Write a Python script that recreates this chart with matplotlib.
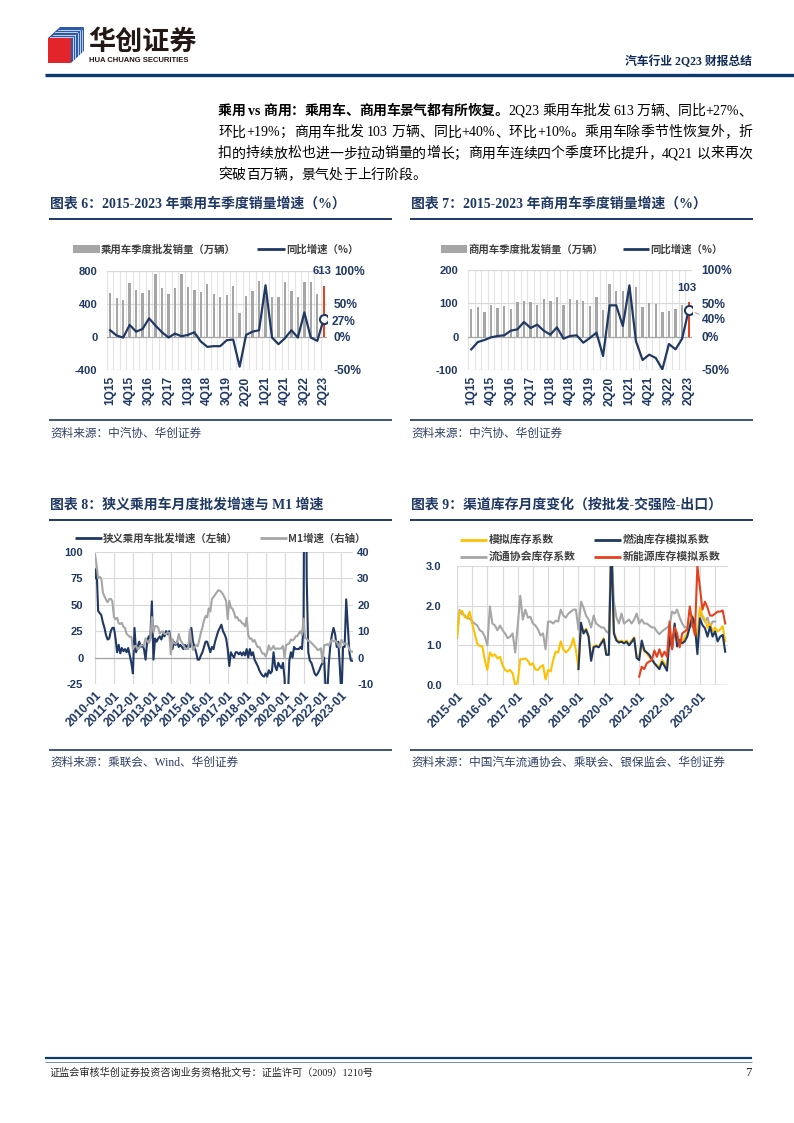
import re
import matplotlib
matplotlib.use('Agg')
import matplotlib.pyplot as plt
from matplotlib.lines import Line2D
from matplotlib.patches import Polygon, Rectangle
from matplotlib.font_manager import FontProperties

# ======================= DATA =======================
quarters = ['1Q15', '2Q15', '3Q15', '4Q15', '1Q16', '2Q16', '3Q16', '4Q16',
            '1Q17', '2Q17', '3Q17', '4Q17', '1Q18', '2Q18', '3Q18', '4Q18',
            '1Q19', '2Q19', '3Q19', '4Q19', '1Q20', '2Q20', '3Q20', '4Q20',
            '1Q21', '2Q21', '3Q21', '4Q21', '1Q22', '2Q22', '3Q22', '4Q22',
            '1Q23', '2Q23']
# 乘用车季度批发销量（万辆） / 同比增速（%）
pv_quarter_sales = [528, 476, 444, 652, 564, 532, 564, 756, 596, 524, 588, 756,
                    604, 564, 540, 644, 524, 484, 508, 620, 284, 500, 552, 676,
                    500, 488, 484, 660, 552, 488, 660, 660, 520, 613]
pv_quarter_yoy = [10, 2, -1, 18, 8, 12, 28, 17, 7, -1, 5, 1,
                  3, 7, -7, -15, -14, -14, -5, -4, -45, 3, 8, 10,
                  78, -1, -11, -2, 10, -1, 37, -1, -6, 27]
# 商用车季度批发销量（万辆） / 同比增速（%）
cv_quarter_sales = [84, 90, 74, 94, 86, 92, 82, 104, 106, 104, 96, 112,
                    108, 120, 96, 112, 110, 108, 92, 120, 80, 158, 136, 138,
                    150, 148, 88, 102, 98, 74, 78, 82, 96, 103]
cv_quarter_yoy = [-19, -8, -5, -1, 1, 2, 9, 11, 22, 13, 18, 9,
                  3, 14, -3, 1, 2, -9, -2, 6, -29, 47, 47, 16,
                  77, -7, -35, -27, -32, -49, -11, -19, -3, 40]

# 图表8: monthly, 2010-01 .. 2023-08
month_ticks_8 = ['2010-01', '2011-01', '2012-01', '2013-01', '2014-01', '2015-01', '2016-01',
                 '2017-01', '2018-01', '2019-01', '2020-01', '2021-01', '2022-01', '2023-01']
pv_month_yoy = [75, 84, 44, 42, 40, 33, 28, 21, 17, 18, 25, 28,
                28, 18, 5, 12, 4, 9, 6, 8, 5, 9, 2, -5,
                -15, 28, 5, 10, 15, 10, 12, 8, -2, 15, 20, 18,
                53, -2, 18, 15, 18, 20, 17, 22, 20, 25, 22, 25,
                15, 8, 15, 12, 15, 10, 12, 10, 8, 12, 10, 12,
                10, 28, 15, 10, 5, -2, -2, 2, 5, 10, 15, 15,
                10, 5, 10, 8, 15, 20, 25, 28, 31, 25, 22, 18,
                8, -8, 5, 2, 0, 5, 5, 3, 5, 2, 5, 2,
                8, 0, 8, 2, 5, -2, -5, -8, -12, -15, -17, -18,
                -15, -18, -12, -15, -13, 5, -8, -12, -5, -8, -10, -5,
                -20, -80, -40, -3, 5, 0, 10, 8, 8, 8, 10, 8,
                30, 380, 75, 5, -3, -5, -10, -15, -17, -15, -12, -8,
                -5, 0, -30, -35, -5, 12, 22, 28, 22, 10, 15, -10,
                -38, 10, 10, 55, 30, 5, -3, -3]
m1_yoy = [39.0, 35.0, 29.9, 30.5, 29.9, 24.6, 23.1, 21.9, 20.9, 22.1, 22.2, 21.2,
          15.3, 14.5, 15.0, 12.9, 12.7, 13.1, 11.6, 11.2, 8.9, 8.4, 7.8, 7.9,
          3.1, 4.3, 4.4, 3.1, 3.5, 4.7, 4.6, 4.5, 7.3, 6.1, 5.5, 6.5,
          15.3, 9.5, 11.9, 11.9, 11.3, 9.1, 9.7, 9.9, 8.9, 8.9, 9.4, 9.3,
          1.2, 6.9, 5.4, 5.3, 5.7, 8.9, 6.7, 5.7, 4.8, 3.2, 3.2, 3.2,
          10.6, 5.6, 2.9, 3.7, 4.7, 4.3, 6.6, 9.3, 11.4, 14.0, 15.7, 15.2,
          18.6, 17.4, 22.1, 22.9, 23.7, 24.6, 25.4, 25.3, 24.7, 23.9, 22.7, 21.4,
          14.5, 21.4, 18.8, 18.5, 17.0, 15.0, 15.3, 14.0, 14.0, 13.0, 12.7, 11.8,
          15.0, 8.5, 7.1, 7.2, 6.0, 6.6, 5.1, 3.9, 4.0, 2.7, 1.5, 1.5,
          0.4, 2.0, 4.6, 2.9, 3.4, 4.4, 3.1, 3.4, 3.4, 3.3, 3.5, 4.4,
          0.0, 4.8, 5.0, 5.5, 6.8, 6.5, 6.9, 8.0, 8.1, 9.1, 10.0, 8.6,
          14.7, 7.4, 7.1, 6.2, 6.1, 5.5, 4.9, 4.2, 3.7, 2.8, 3.0, 3.5,
          -1.9, 4.7, 4.7, 5.1, 4.6, 5.8, 6.7, 6.1, 6.4, 5.8, 4.6, 3.7,
          6.7, 5.8, 5.1, 5.3, 4.7, 3.1, 2.3, 2.2]

# 图表9: monthly from 2015-01
month_ticks_9 = ['2015-01', '2016-01', '2017-01', '2018-01', '2019-01',
                 '2020-01', '2021-01', '2022-01', '2023-01']
inv_start = '2015-01'
sim_inventory = [1.22, 1.85, 1.87, 1.72, 1.68, 1.85, 1.55, 1.30, 1.04, 0.98, 0.98, 0.63,
                 0.38, 0.82, 0.73, 0.77, 0.67, 0.71, 0.50, 0.38, 0.34, 0.38, 0.29, 0.00,
                 0.08, 0.65, 0.65, 0.67, 0.61, 0.50, 0.55, 0.39, 0.38, 0.46, 0.50, 0.14,
                 0.38, 0.34, 0.63, 0.84, 0.82, 1.10, 0.90, 0.82, 0.88, 0.97, 1.18, 0.88,
                 0.42, 1.45, 1.35, 1.42, 1.25, 0.65, 0.98, 1.00, 0.97, 1.08, 1.18, 0.78,
                 0.78, 3.60, 1.35, 1.15, 1.10, 1.12, 1.08, 1.12, 1.03, 1.12, 1.20, 0.72,
                 0.71, 1.05, 0.84, 0.80, 0.71, 0.63, 0.55, 0.50, 0.46, 0.63, 0.55, 0.42,
                 1.30, 0.95, 1.50, 1.05, 1.15, 1.10, 1.20, 1.30, 1.55, 1.75, 1.45, 1.20,
                 1.95, 1.75, 1.65, 1.45, 1.55, 1.35, 1.45, 1.35, 1.40, 1.48, 1.10]
cada_inventory = [1.18, 1.89, 1.79, 1.76, 1.68, 1.68, 1.60, 1.55, 1.50, 1.38, 1.34, 1.22,
                  1.00, 1.98, 1.55, 1.50, 1.38, 1.50, 1.38, 1.30, 1.18, 1.22, 1.30, 0.82,
                  1.50, 2.25, 1.65, 1.90, 1.70, 1.72, 1.55, 1.50, 1.40, 1.25, 1.30, 0.90,
                  1.60, 1.60, 1.55, 1.62, 1.60, 1.90, 1.75, 1.70, 1.80, 1.85, 1.90, 1.90,
                  1.40, 2.10, 1.95, 1.75, 1.65, 1.45, 1.75, 1.55, 1.50, 1.45, 1.45, 1.35,
                  1.30, 3.60, 2.10, 1.70, 1.55, 1.80, 1.55, 1.60, 1.65, 1.55, 1.65, 1.80,
                  1.55, 1.65, 1.55, 1.55, 1.50, 1.45, 1.45, 1.35, 1.28, 1.35, 1.40, 1.45,
                  1.50, 1.85, 1.80, 1.90, 1.70, 1.55, 1.45, 1.45, 1.45, 1.50, 1.65, 0.95,
                  1.90, 1.70, 1.60, 1.70, 1.45, 1.60, 1.60]
fuel_start = '2019-01'
fuel_inventory = [0.40, 1.57, 1.30, 1.39, 1.22, 0.61, 0.95, 0.98, 0.95, 1.05, 1.15, 0.76,
                  0.76, 3.60, 1.30, 1.12, 1.07, 1.09, 1.05, 1.09, 1.00, 1.08, 1.18, 0.68,
                  0.63, 1.12, 0.88, 0.82, 0.76, 0.65, 0.55, 0.47, 0.40, 0.58, 0.48, 0.36,
                  1.22, 0.92, 1.55, 0.97, 1.13, 1.05, 1.10, 1.22, 1.47, 1.72, 1.50, 0.78,
                  1.68, 1.51, 1.43, 1.22, 1.47, 1.22, 1.35, 1.10, 1.22, 1.26, 0.84]
nev_start = '2021-01'
nev_inventory = [0.21, 0.46, 0.40, 0.55, 0.59, 0.63, 0.87, 0.71, 0.90, 0.71, 0.84, 0.71,
                 1.60, 0.90, 1.45, 1.30, 0.95, 1.30, 1.35, 1.40, 1.98, 1.55, 1.26, 3.00,
                 2.45, 1.90, 2.10, 1.95, 1.75, 1.75, 1.80, 1.85, 1.85, 1.88, 1.55]

# ======================= STYLE =======================
W, H = 794, 1123
NAVY = '#1F3864'
GRID = '#D9D9D9'
ZERO = '#A6A6A6'
BARGRAY = '#A6A6A6'
RED = '#E2431E'
YELLOW = '#FFC000'
LGRAY = '#A6A6A6'
CJK = ['Liberation Serif', 'Noto Sans CJK SC']
SANS = ['Noto Sans CJK SC']
TKY = dict(fontfamily='Liberation Sans', fontweight='bold', fontsize=8, color=NAVY)
TKX = dict(fontfamily='Liberation Sans', fontweight='bold', fontsize=8.6, color=NAVY)

fig = plt.figure(figsize=(W / 100, H / 100), dpi=100)
renderer = fig.canvas.get_renderer()


def fy(y):
    return 1 - y / H


def axes_px(x0, y0, x1, y1):
    return fig.add_axes([x0 / W, 1 - y1 / H, (x1 - x0) / W, (y1 - y0) / H])


def hline(x0, x1, y, color=NAVY, lw=1.2):
    fig.add_artist(Line2D([x0 / W, x1 / W], [fy(y), fy(y)], color=color, lw=lw,
                          transform=fig.transFigure, solid_capstyle='butt'))


def clean(ax):
    ax.set_facecolor('none')
    for s in ax.spines.values():
        s.set_visible(False)
    ax.tick_params(length=0)


def month_index(label, start):
    y, m = map(int, label.split('-'))
    y0, m0 = map(int, start.split('-'))
    return (y - y0) * 12 + (m - m0)


# ======================= HEADER =======================
def poly(pts, **kw):
    fig.add_artist(Polygon([(x / W, fy(y)) for x, y in pts], closed=True,
                           transform=fig.transFigure, **kw))


poly([(60, 27), (84, 27), (72, 38), (48, 38)], color='#2B5BA8', lw=0)
poly([(48, 38), (71, 38), (71, 63), (48, 63)], color='#E3252B', lw=0)
poly([(71, 38), (84, 27), (84, 51), (71, 63)], color='#2B5BA8', lw=0)
for k in range(4):
    yy = 29.5 + k * 2.6
    dx = (yy - 27) * 12 / 11
    fig.add_artist(Line2D([(60 - dx + 1) / W, (84 - dx - 1) / W], [fy(yy), fy(yy)],
                          color='white', lw=0.5, transform=fig.transFigure))
for k in range(5):
    xx = 73 + k * 2.3
    fig.add_artist(Line2D([xx / W, xx / W], [fy(38 - (xx - 71) * 11 / 13 + 1), fy(63 - (xx - 71) * 12 / 13 - 1)],
                          color='white', lw=0.5, transform=fig.transFigure))

fig.text(88 / W, fy(42), '华创证券', family=SANS, weight='bold', fontsize=19.5,
         color='#231815', va='center', ha='left')
fig.text(89 / W, fy(60), 'HUA CHUANG SECURITIES', family=['Liberation Sans'], weight='bold',
         fontsize=5.5, color='#231815', va='center', ha='left')
fig.text(752 / W, fy(62), '汽车行业 2Q23 财报总结', family=CJK, weight='bold', fontsize=8.5,
         color='#0F2A55', va='center', ha='right')
hline(45, 794, 75, color='#0D3A70', lw=2.4)

# ======================= PARAGRAPH =======================
body_reg = FontProperties(family=CJK, size=10)
body_bold = FontProperties(family=CJK, size=10, weight='bold')
TOK = re.compile(r'[A-Za-z0-9+%.\-]+|.')


def inkw(s, fp):
    t = fig.text(0, 0.5, s, fontproperties=fp)
    w = t.get_window_extent(renderer).width
    t.remove()
    return w


def layout_segments(segments):
    items = []
    offset = 0.0
    for text, fp in segments:
        toks = TOK.findall(text)
        base = inkw('I', fp)
        prefix = ''
        for tk in toks:
            x = 0.0 if prefix == '' else inkw(prefix + 'I', fp) - base
            items.append((tk, fp, offset + x))
            prefix += tk
        offset += inkw(prefix + 'I', fp) - base
    return items, offset


def par_line(segments, yc, x0=218, x1=752, justify=True):
    items, total = layout_segments(segments)
    gap = (x1 - x0 - total) / (len(items) - 1) if justify else 0.0
    for i, (tk, fp, x) in enumerate(items):
        if tk.strip() == '':
            continue
        fig.text((x0 + x + i * gap) / W, fy(yc + 5), tk, fontproperties=fp,
                 va='baseline', ha='left', color='black')


par_line([('乘用 vs 商用：乘用车、商用车景气都有所恢复。', body_bold),
          ('2Q23 乘用车批发 613 万辆、同比+27%、', body_reg)], 110)
par_line([('环比+19%；商用车批发 103 万辆、同比+40%、环比+10%。乘用车除季节性恢复外，折', body_reg)], 131.3)
par_line([('扣的持续放松也进一步拉动销量的增长；商用车连续四个季度环比提升，4Q21 以来再次', body_reg)], 152.5)
par_line([('突破百万辆，景气处于上行阶段。', body_reg)], 173.5, justify=False)

# ======================= TITLES / FOOTNOTES =======================
def title(x, y, s):
    fig.text(x / W, fy(y), s, family=CJK, weight='bold', fontsize=10, color=NAVY,
             va='center', ha='left')


def source(x, y, s):
    fig.text(x / W, fy(y), s, family=CJK, fontsize=8.4, color='#2E3E66', va='center', ha='left')


title(50, 204, '图表 6：2015-2023 年乘用车季度销量增速（%）')
title(411, 204, '图表 7：2015-2023 年商用车季度销量增速（%）')
hline(49, 392, 219, lw=1.4)
hline(410, 753, 219, lw=1.4)
hline(49, 392, 420, lw=1.2)
hline(410, 753, 420, lw=1.2)
source(50, 434, '资料来源：中汽协、华创证券')
source(411, 434, '资料来源：中汽协、华创证券')

title(50, 505, '图表 8：狭义乘用车月度批发增速与 M1 增速')
title(411, 505, '图表 9：渠道库存月度变化（按批发-交强险-出口）')
hline(49, 392, 520, lw=1.4)
hline(410, 753, 520, lw=1.4)
hline(49, 392, 750, lw=1.2)
hline(410, 753, 750, lw=1.2)
source(50, 763, '资料来源：乘联会、Wind、华创证券')
source(411, 763, '资料来源：中国汽车流通协会、乘联会、银保监会、华创证券')

# ======================= LEGEND HELPERS =======================
def leg_line(x0, x1, y, color, lw=2.0):
    fig.add_artist(Line2D([x0 / W, x1 / W], [fy(y), fy(y)], color=color, lw=lw,
                          transform=fig.transFigure, solid_capstyle='butt'))


def leg_rect(x0, x1, y0, y1, color):
    fig.add_artist(Rectangle((x0 / W, fy(y1)), (x1 - x0) / W, (y1 - y0) / H, color=color,
                             transform=fig.transFigure, lw=0))


def leg_text(x, y, s, size=7.5):
    fig.text(x / W, fy(y), s, family=SANS, weight='bold', fontsize=size, color='#404040',
             va='center', ha='left')


# ======================= QUARTERLY CHARTS =======================
def quarter_chart(box, sales, yoy, ylim_l, yticks_l, ylim_r, yticks_r, lpad, rpad,
                  val_off, pct_off, leader=False):
    x0, y0, x1, y1 = box
    ax = axes_px(x0, y0, x1, y1)
    clean(ax)
    n = len(sales)
    xs = list(range(n))
    for k in range(n + 1):
        ax.axvline(k - 0.5, color='#E4E4E4', lw=0.8, zorder=0)
    for v in yticks_l:
        ax.axhline(v, color=ZERO if v == 0 else GRID, lw=0.9, zorder=0.5)
    ax.bar(xs, sales, width=0.36, color=[BARGRAY] * (n - 1) + [RED], zorder=2)
    ax.set_xlim(-0.5, n - 0.5)
    ax.set_ylim(*ylim_l)
    ax.set_yticks(yticks_l, labels=[str(v) for v in yticks_l], **TKY)
    ax.set_xticks(xs[::3], labels=quarters[::3], rotation=90, **TKX)
    ax.tick_params(axis='y', pad=lpad)
    ax.tick_params(axis='x', pad=4.5)
    ax.annotate(str(sales[-1]), (n - 1, sales[-1]), xytext=(-1.5, val_off), textcoords='offset points',
                ha='center', va='bottom', fontfamily='Liberation Sans', fontweight='bold',
                fontsize=8.2, color=NAVY)
    ax2 = ax.twinx()
    clean(ax2)
    ax2.set_ylim(*ylim_r)
    ax2.plot(xs, yoy, color=NAVY, lw=1.6, zorder=3)
    ax2.plot([n - 1], [yoy[-1]], 'o', ms=6.5, mfc='white', mec=NAVY, mew=1.5, zorder=4)
    ax2.set_yticks(yticks_r, labels=[f'{v}%' for v in yticks_r], **TKX)
    ax2.tick_params(axis='y', pad=rpad)
    kw = dict(ha='left', va='center', fontfamily='Liberation Sans', fontweight='bold',
              fontsize=8.6, color=NAVY, annotation_clip=False)
    if leader:
        kw['arrowprops'] = dict(arrowstyle='-', color='#A6A6A6', lw=0.8, shrinkA=0, shrinkB=5)
    ax2.annotate(f'{yoy[-1]}%', (n - 1, yoy[-1]), xytext=pct_off, textcoords='offset points', **kw)
    return ax, ax2


quarter_chart((107, 270.7, 327, 370), pv_quarter_sales, pv_quarter_yoy,
              (-400, 800), [-400, 0, 400, 800], (-50, 100), [-50, 0, 50, 100],
              lpad=7, rpad=5, val_off=7, pct_off=(6, -2))
leg_rect(73, 100, 245, 253, BARGRAY)
leg_text(101, 249, '乘用车季度批发销量（万辆）')
leg_line(257, 285, 249, NAVY)
leg_text(286, 249, '同比增速（%）')

quarter_chart((468, 270, 692, 370), cv_quarter_sales, cv_quarter_yoy,
              (-100, 200), [-100, 0, 100, 200], (-50, 100), [-50, 0, 50, 100],
              lpad=7, rpad=7, val_off=7, pct_off=(9.5, -7.5), leader=True)
leg_rect(441, 467, 245, 253, BARGRAY)
leg_text(468, 249, '商用车季度批发销量（万辆）')
leg_line(623, 649, 249, NAVY)
leg_text(650, 249, '同比增速（%）')

# ======================= CHART 8 =======================
ax = axes_px(95, 551.7, 353, 684)
clean(ax)
n8 = len(pv_month_yoy)
x8 = list(range(n8))
tick8 = [month_index(t, '2010-01') for t in month_ticks_8]
for t in tick8:
    ax.axvline(t, color=GRID, lw=0.8, zorder=0)
for v in [-25, 25, 50, 75, 100]:
    ax.axhline(v, color=GRID, lw=0.8, zorder=0)
ax.axhline(0, color=ZERO, lw=1.0, zorder=0.5)
ax.plot(x8, pv_month_yoy, color=NAVY, lw=1.5, zorder=3)
ax.set_xlim(0, 163.3)
ax.set_ylim(-25, 100)
ax.set_yticks([-25, 0, 25, 50, 75, 100], labels=['-25', '0', '25', '50', '75', '100'], **TKY)
ax.set_xticks(tick8, labels=month_ticks_8, rotation=45, ha='right', va='top',
              rotation_mode='anchor', **TKX)
ax.tick_params(axis='y', pad=8.4)
ax.tick_params(axis='x', pad=4)
ax2 = ax.twinx()
clean(ax2)
ax2.plot(x8, m1_yoy, color=LGRAY, lw=1.5, zorder=2)
ax2.set_ylim(-10, 40)
ax2.set_yticks([-10, 0, 10, 20, 30, 40], labels=['-10', '0', '10', '20', '30', '40'], **TKY)
ax2.tick_params(axis='y', pad=3)
leg_line(75, 102, 538.3, NAVY)
leg_text(103, 538.3, '狭义乘用车批发增速（左轴）')
leg_line(260, 287, 538.3, LGRAY)
leg_text(288, 538.3, 'M1增速（右轴）')

# ======================= CHART 9 =======================
ax = axes_px(457, 566, 728, 685)
clean(ax)
for t in range(0, 103, 6):
    ax.axvline(t, color=GRID, lw=0.8, zorder=0)
for v in [1, 2, 3]:
    ax.axhline(v, color=GRID, lw=0.8, zorder=0)
ax.axhline(0, color=ZERO, lw=1.0, zorder=0.5)
xs_sim = [month_index(inv_start, inv_start) + i for i in range(len(sim_inventory))]
xs_cada = [month_index(inv_start, inv_start) + i for i in range(len(cada_inventory))]
xs_fuel = [month_index(fuel_start, inv_start) + i for i in range(len(fuel_inventory))]
xs_nev = [month_index(nev_start, inv_start) + i for i in range(len(nev_inventory))]
ax.plot(xs_cada, cada_inventory, color=LGRAY, lw=1.5, zorder=2)
ax.plot(xs_sim, sim_inventory, color=YELLOW, lw=1.5, zorder=3)
ax.plot(xs_fuel, fuel_inventory, color=NAVY, lw=1.5, zorder=4)
ax.plot(xs_nev, nev_inventory, color=RED, lw=1.5, zorder=5)
ax.set_xlim(0, 107.1)
ax.set_ylim(0, 3)
tick9 = [month_index(t, inv_start) for t in month_ticks_9]
ax.set_yticks([0, 1, 2, 3], labels=['0.0', '1.0', '2.0', '3.0'], **TKY)
ax.set_xticks(tick9, labels=month_ticks_9, rotation=45, ha='right', va='top',
              rotation_mode='anchor', **TKX)
ax.tick_params(axis='y', pad=11)
ax.tick_params(axis='x', pad=4)
leg_line(460, 487, 540, YELLOW)
leg_text(489, 540, '模拟库存系数', size=7.8)
leg_line(594, 621, 540, NAVY)
leg_text(623, 540, '燃油库存模拟系数', size=7.8)
leg_line(460, 487, 556.7, LGRAY)
leg_text(489, 556.7, '流通协会库存系数', size=7.8)
leg_line(594, 621, 556.7, RED)
leg_text(623, 556.7, '新能源库存模拟系数', size=7.8)

# ======================= FOOTER =======================
hline(45, 752, 1058, color='#0D3A70', lw=1.6)
hline(45, 752, 1061.5, color='#5A7BB0', lw=0.6)
fig.text(50 / W, fy(1073), '证监会审核华创证券投资咨询业务资格批文号：证监许可（2009）1210号',
         family=CJK, fontsize=7.3, color='#222222', va='center', ha='left')
fig.text(748 / W, fy(1073), '7', family=CJK, fontsize=9, color='#222222', va='center', ha='center')

fig.savefig('out.png', dpi=100)
